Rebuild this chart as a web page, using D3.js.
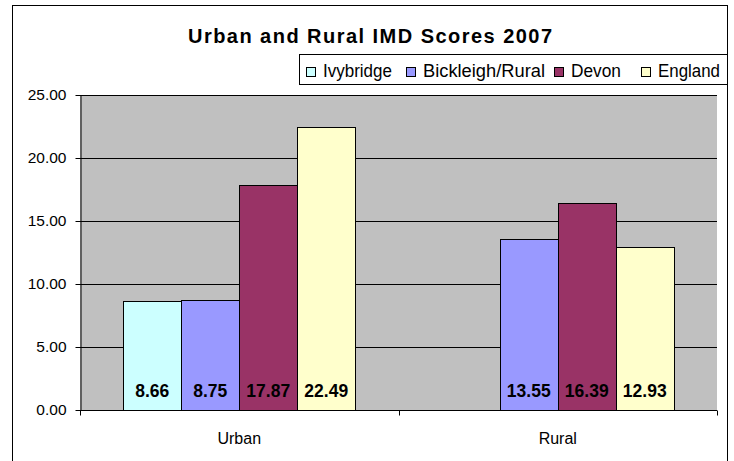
<!DOCTYPE html>
<html>
<head>
<meta charset="utf-8">
<script src="https://cdn.jsdelivr.net/npm/d3@7"></script>
<style>
  body{margin:0;background:#fff;}
  svg{display:block;font-family:"Liberation Sans",Arial,sans-serif;}
</style>
</head>
<body>
<svg id="chart" width="734" height="461"></svg>
<script>
const categories=["Urban","Rural"];
const seriesNames=["Ivybridge","Bickleigh/Rural","Devon","England"];
const seriesColors=["#CCFFFF","#9999FF","#993366","#FFFFCC"];
const ivybridge=[8.66,null];
const bickleigh=[8.75,13.55];
const devon=[17.87,16.39];
const england=[22.49,12.93];
const yTicks=[0,5,10,15,20,25];

const seriesValues=[ivybridge,bickleigh,devon,england];

const svg=d3.select("#chart");
const plot={left:80,right:717,top:95,bottom:410};

// outer frame
svg.append("rect").attr("x",12.5).attr("y",5.5).attr("width",715).attr("height",470)
  .attr("fill","#fff").attr("stroke","#000").attr("stroke-width",1);

svg.append("text").attr("x",370).attr("y",43).attr("text-anchor","middle")
  .attr("font-size",20).attr("font-weight","bold")
  .attr("textLength",364).attr("lengthAdjust","spacing")
  .text("Urban and Rural IMD Scores 2007");

const x0=d3.scaleBand().domain(categories).range([plot.left,plot.right]);
const x1=d3.scaleBand().domain(seriesNames).range([0,x0.bandwidth()]).paddingOuter(0.745);
const y=d3.scaleLinear().domain([0,25]).range([plot.bottom,plot.top]);

svg.append("rect").attr("x",plot.left).attr("y",plot.top)
  .attr("width",plot.right-plot.left).attr("height",plot.bottom-plot.top).attr("fill","#C0C0C0");

svg.append("g").selectAll("line").data(yTicks.filter(d=>d>0)).join("line")
  .attr("x1",plot.left).attr("x2",plot.right)
  .attr("y1",d=>Math.round(y(d))+0.5).attr("y2",d=>Math.round(y(d))+0.5)
  .attr("stroke","#000");

const yAxis=svg.append("g").attr("transform",`translate(${plot.left+0.5},0)`)
  .call(d3.axisLeft(y).tickValues(yTicks).tickFormat(d3.format(".2f")).tickSize(5).tickSizeOuter(0));
yAxis.selectAll("text").attr("font-size",15.5).attr("fill","#000").attr("font-family","Liberation Sans, Arial, sans-serif").attr("dx",-6);
yAxis.selectAll("line,path").attr("stroke","#000");

const rows=[];
categories.forEach((c,ci)=>seriesNames.forEach((s,si)=>{
  const v=seriesValues[si][ci];
  if(v!=null) rows.push({c,s,v,color:seriesColors[si]});
}));

const bars=svg.append("g");
bars.selectAll("rect").data(rows).join("rect")
  .attr("x",d=>Math.round(x0(d.c)+x1(d.s))+0.5)
  .attr("width",Math.round(x1.bandwidth()))
  .attr("y",d=>Math.round(y(d.v))+0.5)
  .attr("height",d=>Math.round(y(0))-Math.round(y(d.v)))
  .attr("fill",d=>d.color).attr("stroke","#000");

bars.selectAll("text").data(rows).join("text")
  .attr("x",d=>x0(d.c)+x1(d.s)+x1.bandwidth()/2)
  .attr("y",397).attr("text-anchor","middle")
  .attr("font-size",17.5).attr("font-weight","bold").attr("fill","#000")
  .text(d=>d.v.toFixed(2));

const xAxis=svg.append("g").attr("transform",`translate(0,${plot.bottom+0.5})`);
xAxis.append("line").attr("x1",plot.left).attr("x2",plot.right).attr("stroke","#000");
xAxis.selectAll("line.tick").data(d3.range(categories.length+1)).join("line").attr("class","tick")
  .attr("x1",i=>Math.round(plot.left+i*x0.bandwidth())+0.5)
  .attr("x2",i=>Math.round(plot.left+i*x0.bandwidth())+0.5)
  .attr("y1",0).attr("y2",5).attr("stroke","#000");
xAxis.selectAll("text").data(categories).join("text")
  .attr("x",d=>x0(d)+x0.bandwidth()/2).attr("y",33).attr("text-anchor","middle")
  .attr("font-size",16).text(d=>d);

// legend (item spots)
const legendSquareX=[306,406,554,641];
const legendTextW=[69,122,50,62];
const lg=svg.append("g");
lg.append("rect").attr("x",299.5).attr("y",54.5).attr("width",428).attr("height",30)
  .attr("fill","#fff").attr("stroke","#000");
seriesNames.forEach((s,i)=>{
  const lx=legendSquareX[i];
  lg.append("rect").attr("x",lx+0.5).attr("y",67.5).attr("width",9).attr("height",9)
    .attr("fill",seriesColors[i]).attr("stroke","#000");
  lg.append("text").attr("x",lx+17).attr("y",77).attr("font-size",17.5)
    .attr("textLength",legendTextW[i]).attr("lengthAdjust","spacingAndGlyphs").text(s);
});
</script>
</body>
</html>
